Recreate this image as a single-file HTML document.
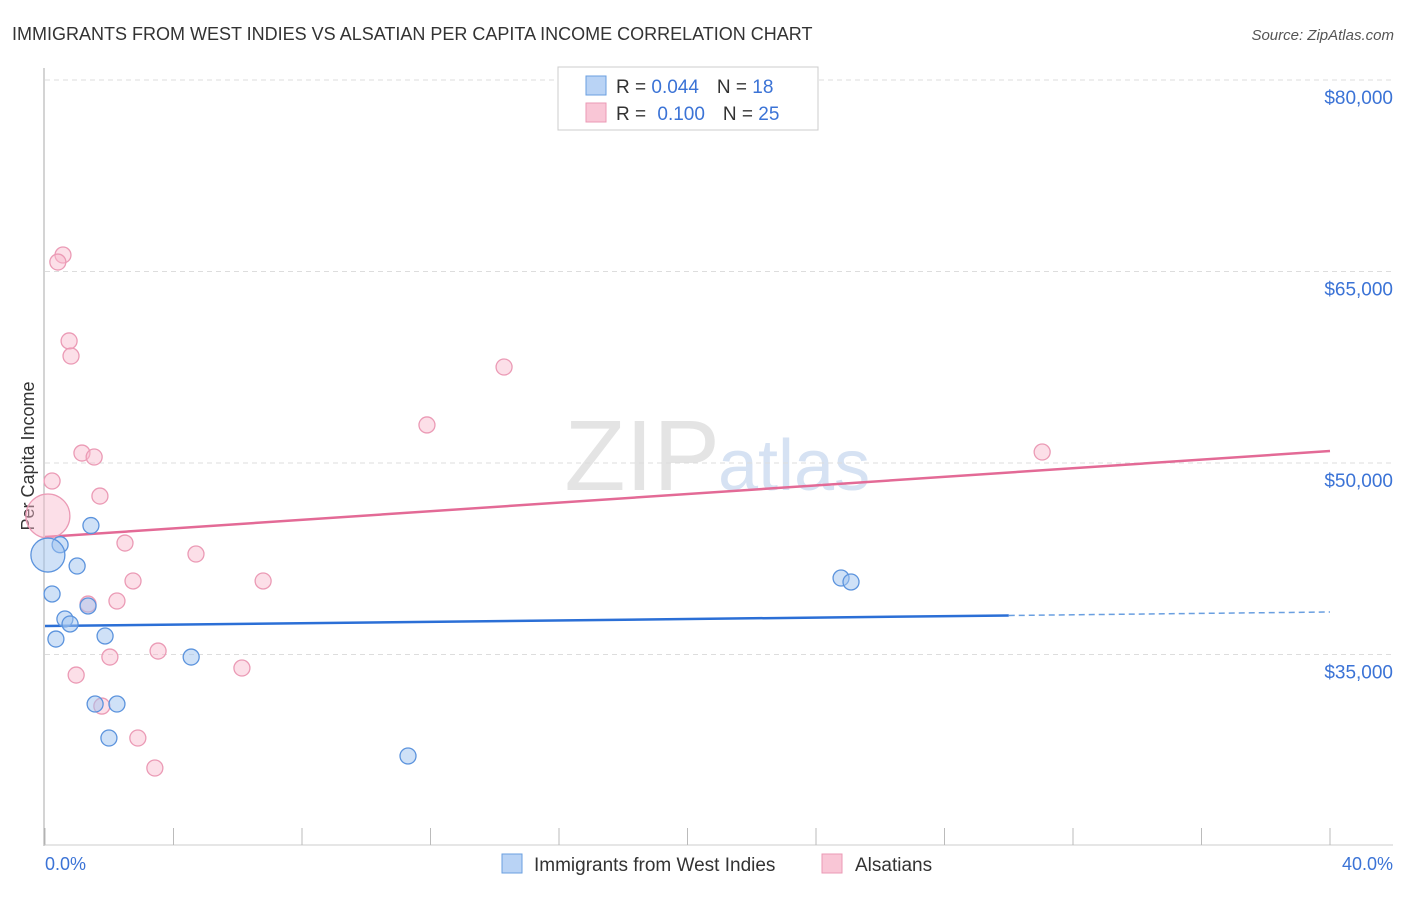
<!DOCTYPE html>
<html><head><meta charset="utf-8"><style>
body{margin:0;background:#fff;font-family:"Liberation Sans",Arial,sans-serif;}
svg text{font-family:"Liberation Sans",Arial,sans-serif;}
</style></head><body>
<svg id="chart" width="1406" height="892">
<text x="12" y="40" font-size="18" fill="#333">IMMIGRANTS FROM WEST INDIES VS ALSATIAN PER CAPITA INCOME CORRELATION CHART</text>
<text x="1394" y="40" font-size="15" fill="#555" text-anchor="end" font-style="italic">Source: ZipAtlas.com</text>
<text x="720" y="490" font-size="100" fill="#e4e4e4" text-anchor="end" font-family="Liberation Serif">ZIP</text>
<text x="718" y="490" font-size="72" fill="#d6e2f3">atlas</text>
<g id="grid"></g>
<line x1="44" y1="68" x2="44" y2="846" stroke="#aaa"/>
<line x1="44" y1="845" x2="1393" y2="845" stroke="#ccc"/>
<g id="ticks"></g>
<text transform="translate(34,456) rotate(-90)" font-size="18" fill="#333" text-anchor="middle">Per Capita Income</text>
<text x="45" y="870" font-size="18" fill="#3b73d6">0.0%</text>
<text x="1393" y="870" font-size="18" fill="#3b73d6" text-anchor="end">40.0%</text>
<g id="lines"></g>
<g id="points"></g>
<g>
<rect x="558" y="67" width="260" height="63" fill="#fff" stroke="#ccc"/>
<rect x="586" y="76" width="20" height="19" fill="#b9d3f5" stroke="#6a9fe0"/>
<rect x="586" y="103" width="20" height="19" fill="#f9c6d6" stroke="#eb9ab5"/>
<text x="616" y="93" font-size="19" fill="#333">R = <tspan fill="#3b73d6">0.044</tspan><tspan dx="18">N = </tspan><tspan fill="#3b73d6">18</tspan></text>
<text x="616" y="120" font-size="19" fill="#333">R = <tspan fill="#3b73d6" dx="6">0.100</tspan><tspan dx="18">N = </tspan><tspan fill="#3b73d6">25</tspan></text>
</g>
<g>
<rect x="502" y="854" width="20" height="19" fill="#b9d3f5" stroke="#6a9fe0"/>
<text x="534" y="871" font-size="19" fill="#333">Immigrants from West Indies</text></g>
<g>
<rect x="822" y="854" width="20" height="19" fill="#f9c6d6" stroke="#eb9ab5"/>
<text x="855" y="871" font-size="19" fill="#333">Alsatians</text></g>
</svg>
<script>
const yTicks=[80000,65000,50000,35000];
const yTickLabels=["$80,000","$65,000","$50,000","$35,000"];
const xTicks=[0,4,8,12,16,20,24,28,32,36,40];
const blueX=[1.43,0.47,0.09,1.0,0.22,1.34,0.62,0.78,0.34,1.87,4.55,1.56,2.24,1.99,11.3,24.78,25.09];
const blueY=[45100,43600,42790,41930,39740,38800,37780,37390,36210,36450,34800,31120,31120,28460,27050,40990,40680];
const blueR=[8,8,17,8,8,8,8,8,8,8,8,8,8,8,8,8,8];
const pinkX=[0.56,0.40,0.75,0.81,1.15,1.53,0.22,0.09,1.71,2.49,4.70,2.74,6.79,2.24,1.34,3.52,2.02,6.13,0.97,1.77,2.89,3.42,14.29,11.89,31.04];
const pinkY=[66290,65740,59560,58380,50780,50470,48590,45850,47410,43730,42870,40760,40760,39190,38950,35270,34800,33940,33390,30960,28460,26110,57520,52980,50860];
const pinkR=[8,8,8,8,8,8,8,22,8,8,8,8,8,8,8,8,8,8,8,8,8,8,8,8,8];
const blueTrend=[37230,38330];
const pinkTrend=[44200,50940];
const blueSolidEnd=30;
const X=p=>45+p/40*1285;
const Y=v=>463-(v-50000)/15000*191.5;
const NS="http://www.w3.org/2000/svg";
function mk(t,a,parent){const e=document.createElementNS(NS,t);for(const k in a)e.setAttribute(k,a[k]);document.getElementById(parent).appendChild(e);return e;}
yTicks.forEach((v,i)=>{
 const g=mk('line',{x1:45,x2:1393,y1:Y(v),y2:Y(v),stroke:'#ddd','stroke-dasharray':'5,4'},'grid');
 
 
 const t=mk('text',{x:1393,y:Y(v)+24,'font-size':19,fill:'#3b73d6','text-anchor':'end'},'grid');
 t.textContent=yTickLabels[i];
 
 
});
xTicks.forEach(p=>{
 const l=mk('line',{x1:X(p),x2:X(p),y1:828,y2:845,stroke:'#bbb'},'ticks');
 
 
});
const lt=(t)=>t[0]+(t[1]-t[0])*blueSolidEnd/40;
let l1=mk('line',{x1:X(0),y1:Y(blueTrend[0]),x2:X(blueSolidEnd),y2:Y(lt(blueTrend)),stroke:'#2b6fd6','stroke-width':2.5},'lines');


let l2=mk('line',{x1:X(blueSolidEnd),y1:Y(lt(blueTrend)),x2:X(40),y2:Y(blueTrend[1]),stroke:'#6a9fe0','stroke-width':1.5,'stroke-dasharray':'6,4'},'lines');


let l3=mk('line',{x1:X(0),y1:Y(pinkTrend[0]),x2:X(40),y2:Y(pinkTrend[1]),stroke:'#e36a96','stroke-width':2.5},'lines');


pinkX.forEach((x,i)=>{
 const c=mk('circle',{cx:X(x),cy:Y(pinkY[i]),r:pinkR[i],fill:'rgba(248,185,205,0.45)',stroke:'#eb9ab5','stroke-width':1.3},'points');
 
 
});
blueX.forEach((x,i)=>{
 const c=mk('circle',{cx:X(x),cy:Y(blueY[i]),r:blueR[i],fill:'rgba(160,196,240,0.5)',stroke:'#5b93dd','stroke-width':1.3},'points');
 
 
});
</script>
</body></html>
